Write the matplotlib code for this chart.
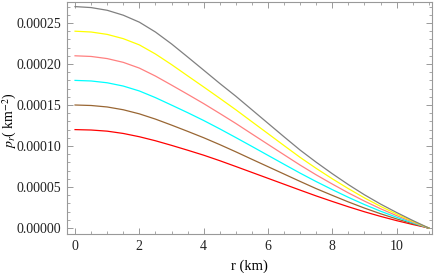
import matplotlib
matplotlib.use("Agg")
import matplotlib.pyplot as plt
from matplotlib.ticker import MultipleLocator, FormatStrFormatter

# radial coordinate (km)
r = [0, 0.5, 1, 1.5, 2, 2.5, 3, 3.5, 4, 4.5, 5, 5.5, 6, 6.5, 7, 7.5, 8, 8.5, 9, 9.5, 10, 10.5, 11]

# radial pressure, in units of 1e-6 km^-2
p_red = [120, 119.5, 118.1, 115.3, 111.3, 106.4, 100.8, 94.9, 88.8, 82.1, 75.0, 67.8,
         60.6, 53.4, 46.2, 39.1, 32.4, 25.9, 19.8, 14.2, 9.0, 4.3, 0]
p_brown = [150, 149.4, 147.6, 144.2, 139.2, 132.8, 125.5, 117.9, 110.1, 101.7, 92.9, 83.8,
           74.8, 65.8, 56.8, 48.0, 39.8, 31.8, 24.3, 17.4, 11.1, 5.3, 0]
p_cyan = [180, 179.3, 177.1, 173.1, 167.1, 159.0, 149.9, 140.7, 131.1, 120.9, 110.3, 99.5,
          88.6, 77.7, 66.9, 56.6, 46.8, 37.4, 28.6, 20.5, 13.1, 6.3, 0]
p_pink = [210, 209.2, 206.6, 202.0, 195.0, 185.3, 174.3, 163.1, 151.7, 139.7, 127.5, 114.7,
          102.0, 89.3, 76.7, 64.8, 53.6, 42.8, 32.8, 23.5, 15.1, 7.3, 0]
p_yellow = [240, 239.0, 236.1, 230.9, 223.3, 212.2, 199.3, 185.6, 172.0, 158.2, 144.2, 129.6,
            115.1, 100.5, 86.1, 72.7, 60.0, 48.0, 36.7, 26.4, 17.0, 8.3, 0]
p_gray = [270, 268.8, 265.5, 259.5, 251.0, 239.0, 224.5, 208.6, 192.5, 176.3, 160.7, 144.2,
          127.7, 111.2, 95.0, 80.2, 66.2, 52.9, 40.5, 29.2, 18.9, 9.2, 0]

series = [p_red, p_brown, p_cyan, p_pink, p_yellow, p_gray]
colors = ["#ff0000", "#996633", "#00ffff", "#ff8080", "#ffff00", "#808080"]

plt.rcParams["font.family"] = ["Liberation Serif", "DejaVu Serif"]
plt.rcParams["mathtext.fontset"] = "stix"

fig = plt.figure(figsize=(4.36, 2.73), dpi=100)
ax = fig.add_axes([67/436, 1-234/273, 365/436, 232/273])

for p, c in zip(series, colors):
    ax.plot(r, [v*1e-6 for v in p], color=c, lw=0.9)

ax.set_xlim(-0.25, 11.1)
ax.set_ylim(-7.3e-6, 2.756e-4)

ax.xaxis.set_major_locator(MultipleLocator(2))
ax.xaxis.set_minor_locator(MultipleLocator(0.5))
ax.yaxis.set_major_locator(MultipleLocator(5e-5))
ax.yaxis.set_minor_locator(MultipleLocator(1e-5))
ax.yaxis.set_major_formatter(FormatStrFormatter("%.5f"))

frame = "#999999"
for s in ax.spines.values():
    s.set_color(frame)
    s.set_linewidth(0.8)
ax.tick_params(which="both", direction="in", top=True, right=True,
               color=frame, labelsize=10, labelcolor="#222222")
ax.tick_params(which="major", length=4.5, width=0.7, pad=4)
ax.tick_params(which="minor", length=2.5, width=0.6)

ax.set_xlabel("r (km)", fontsize=10.5, labelpad=5)
ax.set_ylabel(r"$p_r$( km$^{-2}$)", fontsize=10)
ax.yaxis.set_label_coords(-0.132, 0.487)

fig.savefig("out.png", dpi=100)
